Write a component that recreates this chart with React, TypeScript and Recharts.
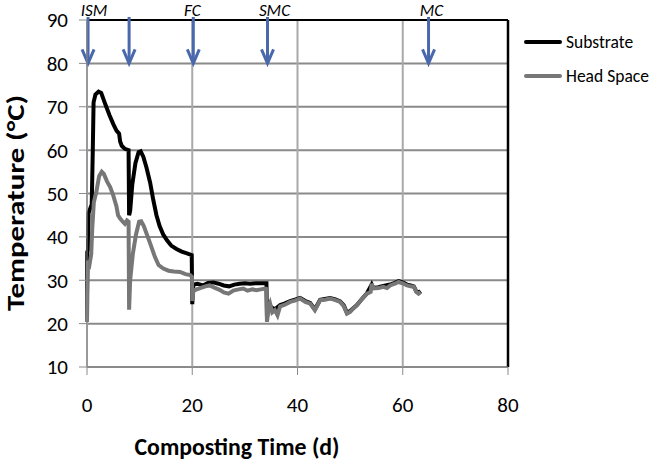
import React from "react";
import {
  LineChart,
  Line,
  XAxis,
  YAxis,
  CartesianGrid,
  ReferenceLine,
  Legend,
} from "recharts";

// Substrate temperature (black)
const subDays = [
  0, 0.05, 0.2, 0.3, 0.6, 0.9, 1.1, 1.25, 1.6, 2.2, 2.7, 3.5, 4.3, 5.0, 5.6, 6.1, 6.3, 6.6, 7.2, 7.9,
  8.0, 8.2, 8.6, 9.2, 9.8, 10.2, 10.7, 11.3, 12.0, 12.6, 13.2, 13.8, 14.5, 15.2, 16.0, 17.0, 18.0, 19.0, 19.9,
  20.0, 20.2, 21, 22, 23, 24, 25, 26, 27, 28, 29, 30, 31, 32, 33, 34.1,
  34.2, 34.6, 35.0, 35.7, 36.7, 37.5, 38.6, 39.5, 40.5, 41.5, 42.4, 43.3, 44.3, 45.2, 46.2, 47.2, 48.1, 48.8,
  49.4, 50, 51.3, 52.2, 53.2, 54.1, 54.4, 55.4, 56.3, 57.6, 58.5, 59.2, 60.0, 60.8, 61.5, 62.1, 62.6, 63.0, 63.4,
];
const subTemp = [
  20.5, 36.5, 37, 45.5, 46.5, 47.5, 60, 71, 72.8, 73.5, 73.2, 70.5, 68, 66, 64.5, 63.8, 62, 61, 60.3, 60,
  45, 46, 52, 57, 59.5, 59.7, 58.5, 56, 52.5, 48.5, 45, 42.5, 40.5, 39.2, 38, 37.2, 36.6, 36.2, 35.8,
  24.5, 29.0, 29.2, 28.8, 29.4, 29.5, 29.2, 28.8, 28.6, 29.0, 29.2, 29.3, 29.2, 29.3, 29.3, 29.3,
  21.5, 24.6, 23.8, 23.3, 24.3, 24.6, 25.2, 25.5, 25.9, 25.2, 24.8, 23.3, 25.5, 25.7, 25.9, 25.6, 25.1, 24.2,
  22.5, 22.9, 24.3, 25.6, 27.0, 29.0, 28.2, 28.4, 28.7, 29.0, 29.4, 29.8, 29.5, 29.0, 28.8, 28.6, 27.4, 27.1, 27.5,
];

// Head space temperature (grey)
const hsDays = [
  0, 0.05, 0.2, 0.5, 0.8, 1.0, 1.3, 1.8, 2.3, 2.8, 3.2, 3.8, 4.4, 5.0, 5.6, 5.9, 6.3, 6.8, 7.2, 7.6, 7.9,
  8.0, 8.2, 8.7, 9.3, 9.9, 10.3, 10.8, 11.3, 12.0, 12.9, 13.6, 14.5, 15.5, 16.5, 17.7, 18.7, 19.6, 19.95,
  20.0, 20.2, 20.6, 21.5, 22.5, 23.3, 24.2, 25.2, 26.0, 26.9, 27.8, 28.8, 29.7, 30.5, 31.4, 32.2, 33.0, 33.9, 34.1,
  34.2, 34.5, 34.8, 35.2, 35.7, 36.2, 36.7, 37.5, 38.6, 39.5, 40.5, 41.5, 42.4, 43.3, 44.3, 45.2, 46.2, 47.2,
  48.1, 48.8, 49.4, 50, 50.6, 51.3, 52.2, 53.2, 53.9, 54.1, 54.4, 55.4, 56.3, 57.0, 57.6, 58.5, 59.2, 60.0,
  60.8, 61.5, 62.1, 62.6, 63.0, 63.4,
];
const hsTemp = [
  20.5, 27, 34.5, 33.8, 36, 42, 48, 50.5, 54, 55, 54.5, 52.8, 51.5, 49.5, 47, 45, 44.2, 43.5, 43.0, 43.8, 43.5,
  23.2, 30, 36, 40.5, 43.5, 43.6, 42.5, 40.8, 38.5, 35.4, 33.5, 32.7, 32.2, 32.0, 31.9, 31.4, 31.2, 30.8,
  25.2, 27.4, 27.8, 28.2, 28.6, 28.8, 28.3, 27.8, 27.2, 26.9, 27.6, 27.9, 28.1, 27.6, 27.9, 27.7, 27.9, 28.1, 28.0,
  20.4, 23.5, 24.6, 22.6, 23.1, 21.9, 24.0, 24.3, 25.0, 25.3, 25.8, 25.0, 24.6, 23.1, 25.4, 25.5, 25.8, 25.4,
  25.0, 24.0, 22.3, 22.7, 23.5, 24.2, 25.6, 26.9, 27.3, 29.2, 28.1, 28.2, 28.5, 28.2, 28.8, 29.2, 29.6, 29.3,
  28.8, 28.6, 28.5, 27.3, 26.9, 27.3,
];

// Process-stage arrows along the top
const stageDays = [0.2, 8.0, 20.2, 34.3, 64.9];
const stageLabels = ["ISM", "", "FC", "SMC", "MC"];
const labelShift = [6, 0, -1, 7, 3];

const xTicks = [0, 20, 40, 60, 80];
const yTicks = [10, 20, 30, 40, 50, 60, 70, 80, 90];

const substrateData = subDays.map((d, i) => ({ day: d, temp: subTemp[i] }));
const headSpaceData = hsDays.map((d, i) => ({ day: d, temp: hsTemp[i] }));

const FONT = "Carlito, Lato, sans-serif";
const ARROW = "#4a69ad";
const GRID_H = "#8a8a8a";
const GRID_V = "#a9a9a9";
const HS_GREY = "#777777";

function StageArrow(props: any) {
  const { x1, y1, x2, y2, text, shift } = props;
  return (
    <g>
      <line x1={x1} y1={y1} x2={x2} y2={y2} stroke={ARROW} strokeWidth={3} />
      <polyline
        points={`${x2 - 6},${y2 - 14} ${x2},${y2} ${x2 + 6},${y2 - 14}`}
        fill="none"
        stroke={ARROW}
        strokeWidth={3}
      />
      {text ? (
        <text
          x={x1 + shift}
          y={y1 - 1}
          textAnchor="middle"
          fontFamily={FONT}
          fontStyle="italic"
          fontSize={17}
          fill="#000"
        >
          {text}
        </text>
      ) : null}
    </g>
  );
}

function LegendBox() {
  const rows = [
    { name: "Substrate", color: "#000" },
    { name: "Head Space", color: HS_GREY },
  ];
  return (
    <div style={{ fontFamily: FONT, fontSize: 17.5 }}>
      {rows.map((r) => (
        <div key={r.name} style={{ display: "flex", alignItems: "center", height: 34 }}>
          <span
            style={{
              display: "inline-block",
              width: 38,
              height: 4,
              background: r.color,
              borderRadius: 2,
              marginRight: 4,
            }}
          />
          <span style={{ color: "#000", whiteSpace: "nowrap" }}>{r.name}</span>
        </div>
      ))}
    </div>
  );
}

export default function App() {
  return (
    <div style={{ position: "absolute", left: 0, top: 0, width: 657, height: 462, background: "#fff", overflow: "hidden" }}>
      <LineChart
        width={657}
        height={462}
        margin={{ top: 20, right: 149, bottom: 65, left: 0 }}
      >
        <CartesianGrid horizontal={true} vertical={false} stroke={GRID_H} strokeWidth={2} />
        <CartesianGrid horizontal={false} vertical={true} stroke={GRID_V} strokeWidth={2} />
        <XAxis
          type="number"
          dataKey="day"
          domain={[0, 80]}
          ticks={xTicks}
          height={30}
          tickSize={8}
          tickMargin={22}
          stroke={GRID_H}
          tick={{ fill: "#000", fontSize: 21, fontFamily: FONT }}
          label={{
            content: (p: any) => (
              <text
                x={p.viewBox.x + 150}
                y={p.viewBox.y + 88}
                textAnchor="middle"
                fontFamily={FONT}
                fontWeight="bold"
                fontSize={25}
                textLength={205}
                lengthAdjust="spacingAndGlyphs"
                fill="#000"
              >
                Composting Time (d)
              </text>
            ),
          }}
        />
        <YAxis
          type="number"
          domain={[10, 90]}
          ticks={yTicks}
          width={87}
          tickSize={8}
          tickMargin={11}
          stroke={GRID_H}
          tick={{ fill: "#000", fontSize: 21, fontFamily: FONT }}
          label={{
            content: () => (
              <text
                x={0}
                y={0}
                transform="translate(24,203) rotate(-90)"
                textAnchor="middle"
                fontFamily={FONT}
                fontWeight="bold"
                fontSize={25}
                textLength={216}
                lengthAdjust="spacingAndGlyphs"
                fill="#000"
              >
                Temperature (°C)
              </text>
            ),
          }}
        />
        <ReferenceLine y={90} stroke="#000" strokeWidth={2} />
        <ReferenceLine x={80} stroke="#000" strokeWidth={2.5} />
        <Line
          data={substrateData}
          dataKey="temp"
          name="Substrate"
          type="linear"
          stroke="#000"
          strokeWidth={4}
          dot={false}
          isAnimationActive={false}
        />
        <Line
          data={headSpaceData}
          dataKey="temp"
          name="Head Space"
          type="linear"
          stroke={HS_GREY}
          strokeWidth={4}
          dot={false}
          isAnimationActive={false}
        />
        {stageDays.map((d, i) => (
          <ReferenceLine
            key={i}
            ifOverflow="visible"
            segment={[
              { x: d, y: 90.7 },
              { x: d, y: 80 },
            ]}
            shape={(p: any) => <StageArrow {...p} text={stageLabels[i]} shift={labelShift[i]} />}
          />
        ))}
        <Legend
          layout="vertical"
          align="center"
          verticalAlign="middle"
          content={() => <LegendBox />}
          wrapperStyle={{ left: 524, top: 25, width: 135, height: 70 }}
        />
      </LineChart>
    </div>
  );
}
